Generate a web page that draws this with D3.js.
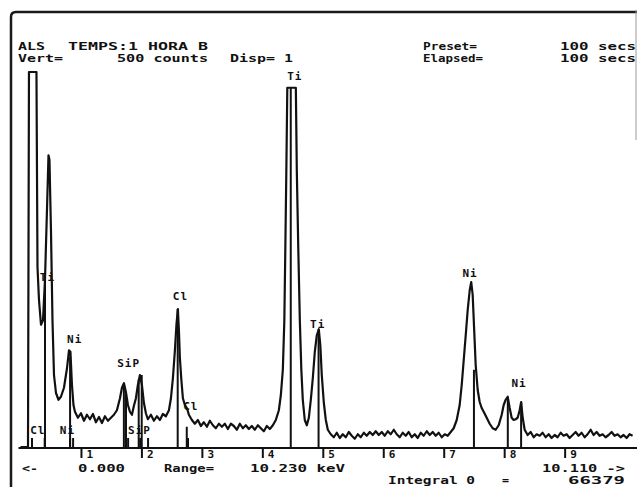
<!DOCTYPE html>
<html>
<head>
<meta charset="utf-8">
<script src="https://cdn.jsdelivr.net/npm/d3@7"></script>
<style>
  html, body { margin: 0; padding: 0; background: #fff; }
  svg { display: block; }
  text { font-family: "DejaVu Sans Mono", "Liberation Mono", monospace; font-weight: bold; fill: #111; }
</style>
</head>
<body>
<svg id="chart" width="637" height="487"></svg>
<script>
// ---------- DATA ----------
const energyKeV = [0.000,0.124,0.140,0.264,0.281,0.306,0.339,0.372,0.405,0.438,0.463,0.479,0.504,0.529,0.554,0.587,0.628,0.669,0.719,0.769,0.802,0.826,0.851,0.876,0.901,
0.950,1.000,1.050,1.099,1.149,1.198,1.248,1.298,1.347,1.397,1.446,1.496,1.545,1.595,
1.645,1.678,1.711,1.744,1.777,1.810,1.843,1.876,1.909,1.942,1.975,2.008,2.041,2.074,2.107,2.157,2.207,2.256,2.306,2.355,2.405,
2.455,2.488,2.521,2.554,2.579,2.603,2.620,2.636,2.661,2.686,2.719,2.752,2.785,2.835,2.884,2.934,2.983,3.033,3.083,3.132,3.182,3.231,3.281,3.331,3.380,3.430,3.479,3.529,3.579,3.628,3.678,3.727,3.777,3.826,3.876,3.926,3.975,4.025,4.074,4.124,4.174,4.223,
4.273,4.306,4.339,4.364,4.380,4.397,4.413,4.554,4.570,4.595,4.620,4.645,4.669,4.702,4.736,4.769,
4.802,4.835,4.868,4.901,4.934,4.959,4.983,5.017,5.050,5.083,5.132,5.182,
5.231,5.281,5.331,5.380,5.430,5.479,5.529,5.579,5.628,5.678,5.727,5.777,5.826,5.876,5.926,5.975,6.025,6.074,6.124,6.174,6.223,6.273,6.322,6.372,6.421,6.471,6.521,6.570,6.620,6.669,6.719,6.769,6.818,6.868,6.917,6.967,7.017,7.066,7.116,7.165,
7.215,7.264,7.298,7.331,7.364,7.397,7.430,7.455,7.479,7.504,7.529,7.562,7.595,7.628,7.661,7.711,7.760,7.810,7.860,
7.909,7.959,7.992,8.025,8.058,8.091,8.124,8.157,8.190,8.223,8.256,8.281,8.306,8.339,8.388,
8.438,8.488,8.537,8.587,8.636,8.686,8.736,8.785,8.835,8.884,8.934,8.983,9.033,9.083,9.132,9.182,9.231,9.281,9.331,9.380,9.430,9.479,9.529,9.579,9.628,9.678,9.727,9.777,9.826,9.876,9.926,9.975,10.025,10.074,10.124];

const countsValues = [0,0,500,500,240,196,163,169,223,316,389,383,289,169,96,72,63,67,79,105,129,127,83,56,47,
39,45,35,43,37,44,33,40,32,41,35,39,43,49,
65,79,85,73,56,47,43,55,65,83,96,83,59,45,37,43,35,41,36,44,41,
49,65,92,129,163,184,156,119,89,65,56,52,43,36,31,36,28,33,27,35,29,25,31,27,31,24,31,28,23,31,25,29,24,28,23,29,25,21,28,24,29,36,
49,69,103,169,263,369,479,479,369,263,169,103,63,36,29,39,
63,92,127,149,157,136,96,59,36,23,17,13,
19,12,17,13,20,15,11,17,13,19,15,20,16,21,16,20,15,21,17,23,17,13,19,15,20,13,17,12,19,15,21,16,20,15,19,13,17,15,20,25,
36,56,83,116,149,183,209,220,203,156,109,76,60,52,47,39,31,25,23,
29,43,56,63,67,52,39,36,37,39,49,60,39,23,16,
20,13,17,15,19,13,17,12,16,13,19,15,17,12,16,20,15,19,13,17,23,16,20,15,17,13,16,20,15,17,13,16,12,17,15];

// KLM marker lines (energy, height in counts)
const markerKeV    = [0.405, 0.82, 1.71, 1.745, 1.955, 2.005, 2.60, 2.75, 4.47, 4.93, 7.50, 8.06, 8.28];
const markerCounts = [223,   120,  85,   73,    90,    96,    184,  27,   479,  157,  103,  65,   60];
// small baseline markers
const smallMarkerKeV = [0.19, 0.40, 0.82, 0.87, 1.78, 1.98, 2.11, 2.77];

// element labels
const peakLabelText   = ["Ti", "Ti", "Ni", "SiP", "Cl", "Cl", "Ti", "Ni", "Ni", "Cl", "Ni", "SiP"];
const peakLabelKeV    = [4.41, 0.32, 0.77, 1.60, 2.52, 2.69, 4.79, 7.31, 8.12, 0.16, 0.65, 1.78];
const peakLabelCounts = [489,  221,  139,  107,  196,  49,   159,  227,  80,   17,   17,   17];

// x axis ticks (keV)
const tickValues = [1, 2, 3, 4, 5, 6, 7, 8, 9];
const tickLabels = ["1", "2", "3", "4", "5", "6", "7", "8", "9"];

// header / footer texts
const headerLine1 = ["ALS", "TEMPS:1 HORA B", "Preset=", "100 secs"];
const headerLine2 = ["Vert=", "500 counts", "Disp= 1", "Elapsed=", "100 secs"];
const footerLine1 = ["<-", "0.000", "Range=", "10.230 keV", "10.110 ->"];
const footerLine2 = ["Integral 0", "=", "66379"];

// ---------- DRAW ----------
const svg = d3.select("#chart");
const x = d3.scaleLinear().domain([0, 10.23]).range([20.5, 639]);
const y = d3.scaleLinear().domain([0, 500]).range([447, 72]);

// frame
svg.append("path")
  .attr("d", "M11,487 L11,17 Q11,12 16,12 L637,12")
  .attr("fill", "none").attr("stroke", "#1a1a1a").attr("stroke-width", 2.5);
svg.append("line").attr("x1", 636).attr("x2", 636).attr("y1", 10).attr("y2", 140)
  .attr("stroke", "#999").attr("stroke-width", 1);

function fitText(g, t, x0, yb, w) {
  const el = g.append("text").attr("x", x0).attr("y", yb).text(t);
  if (w) el.attr("textLength", w).attr("lengthAdjust", "spacingAndGlyphs");
  return el;
}

// header
const hdrX1 = [18, 68, 423, 560];
const hdrW1 = [27, 140, 54, 76];
const hdrX2 = [18, 117, 230, 423, 560];
const hdrW2 = [45, 91, 63, 60, 76];
const hdr = svg.append("g").attr("font-size", 11);
headerLine1.forEach((t, i) => fitText(hdr, t, hdrX1[i], 50, hdrW1[i]));
headerLine2.forEach((t, i) => fitText(hdr, t, hdrX2[i], 62, hdrW2[i]));

// x axis
const axis = d3.axisBottom(x).tickValues(tickValues)
  .tickFormat((d, i) => tickLabels[i]).tickSize(10).tickSizeOuter(0);
const gAxis = svg.append("g").attr("transform", "translate(0,448)").call(axis);
gAxis.select(".domain").attr("stroke", "#111").attr("stroke-width", 2.2)
  .attr("d", `M${x(0) - 2},0H${x(10.23)}`);
gAxis.selectAll(".tick line").attr("stroke", "#111").attr("stroke-width", 2);
gAxis.selectAll(".tick text")
  .attr("x", 5).attr("y", 10).attr("dy", null)
  .attr("text-anchor", "start").attr("font-size", 11).attr("fill", "#111")
  .style("font-family", "'DejaVu Sans Mono', monospace").style("font-weight", "bold");

// marker lines
svg.append("g").selectAll("line.marker").data(markerKeV).join("line")
  .attr("class", "marker")
  .attr("x1", d => x(d)).attr("x2", d => x(d))
  .attr("y1", y(0)).attr("y2", (d, i) => y(markerCounts[i]))
  .attr("stroke", "#111").attr("stroke-width", 2);
svg.append("g").selectAll("line.small").data(smallMarkerKeV).join("line")
  .attr("class", "small")
  .attr("x1", d => x(d)).attr("x2", d => x(d))
  .attr("y1", y(0)).attr("y2", y(12))
  .attr("stroke", "#111").attr("stroke-width", 2);

// spectrum
const pts = energyKeV.map((e, i) => ({ e, c: countsValues[i] }));
const line = d3.line().x(d => x(d.e)).y(d => y(d.c));
svg.append("path").datum(pts).attr("d", line)
  .attr("fill", "none").attr("stroke", "#111").attr("stroke-width", 2.2)
  .attr("stroke-linejoin", "round");

// element labels
svg.append("g").attr("font-size", 11).attr("letter-spacing", 1)
  .selectAll("text").data(peakLabelText).join("text")
  .attr("x", (d, i) => x(peakLabelKeV[i])).attr("y", (d, i) => y(peakLabelCounts[i]))
  .text(d => d);

// footer
const ftX1 = [22, 78, 164, 250, 542];
const ftW1 = [16, 47, 50, 95, 83];
const ftX2 = [388, 502, 568];
const ftW2 = [87, 7, 57];
const ft = svg.append("g").attr("font-size", 11);
footerLine1.forEach((t, i) => fitText(ft, t, ftX1[i], 472, ftW1[i]));
footerLine2.forEach((t, i) => fitText(ft, t, ftX2[i], 484, ftW2[i]));
</script>
</body>
</html>
